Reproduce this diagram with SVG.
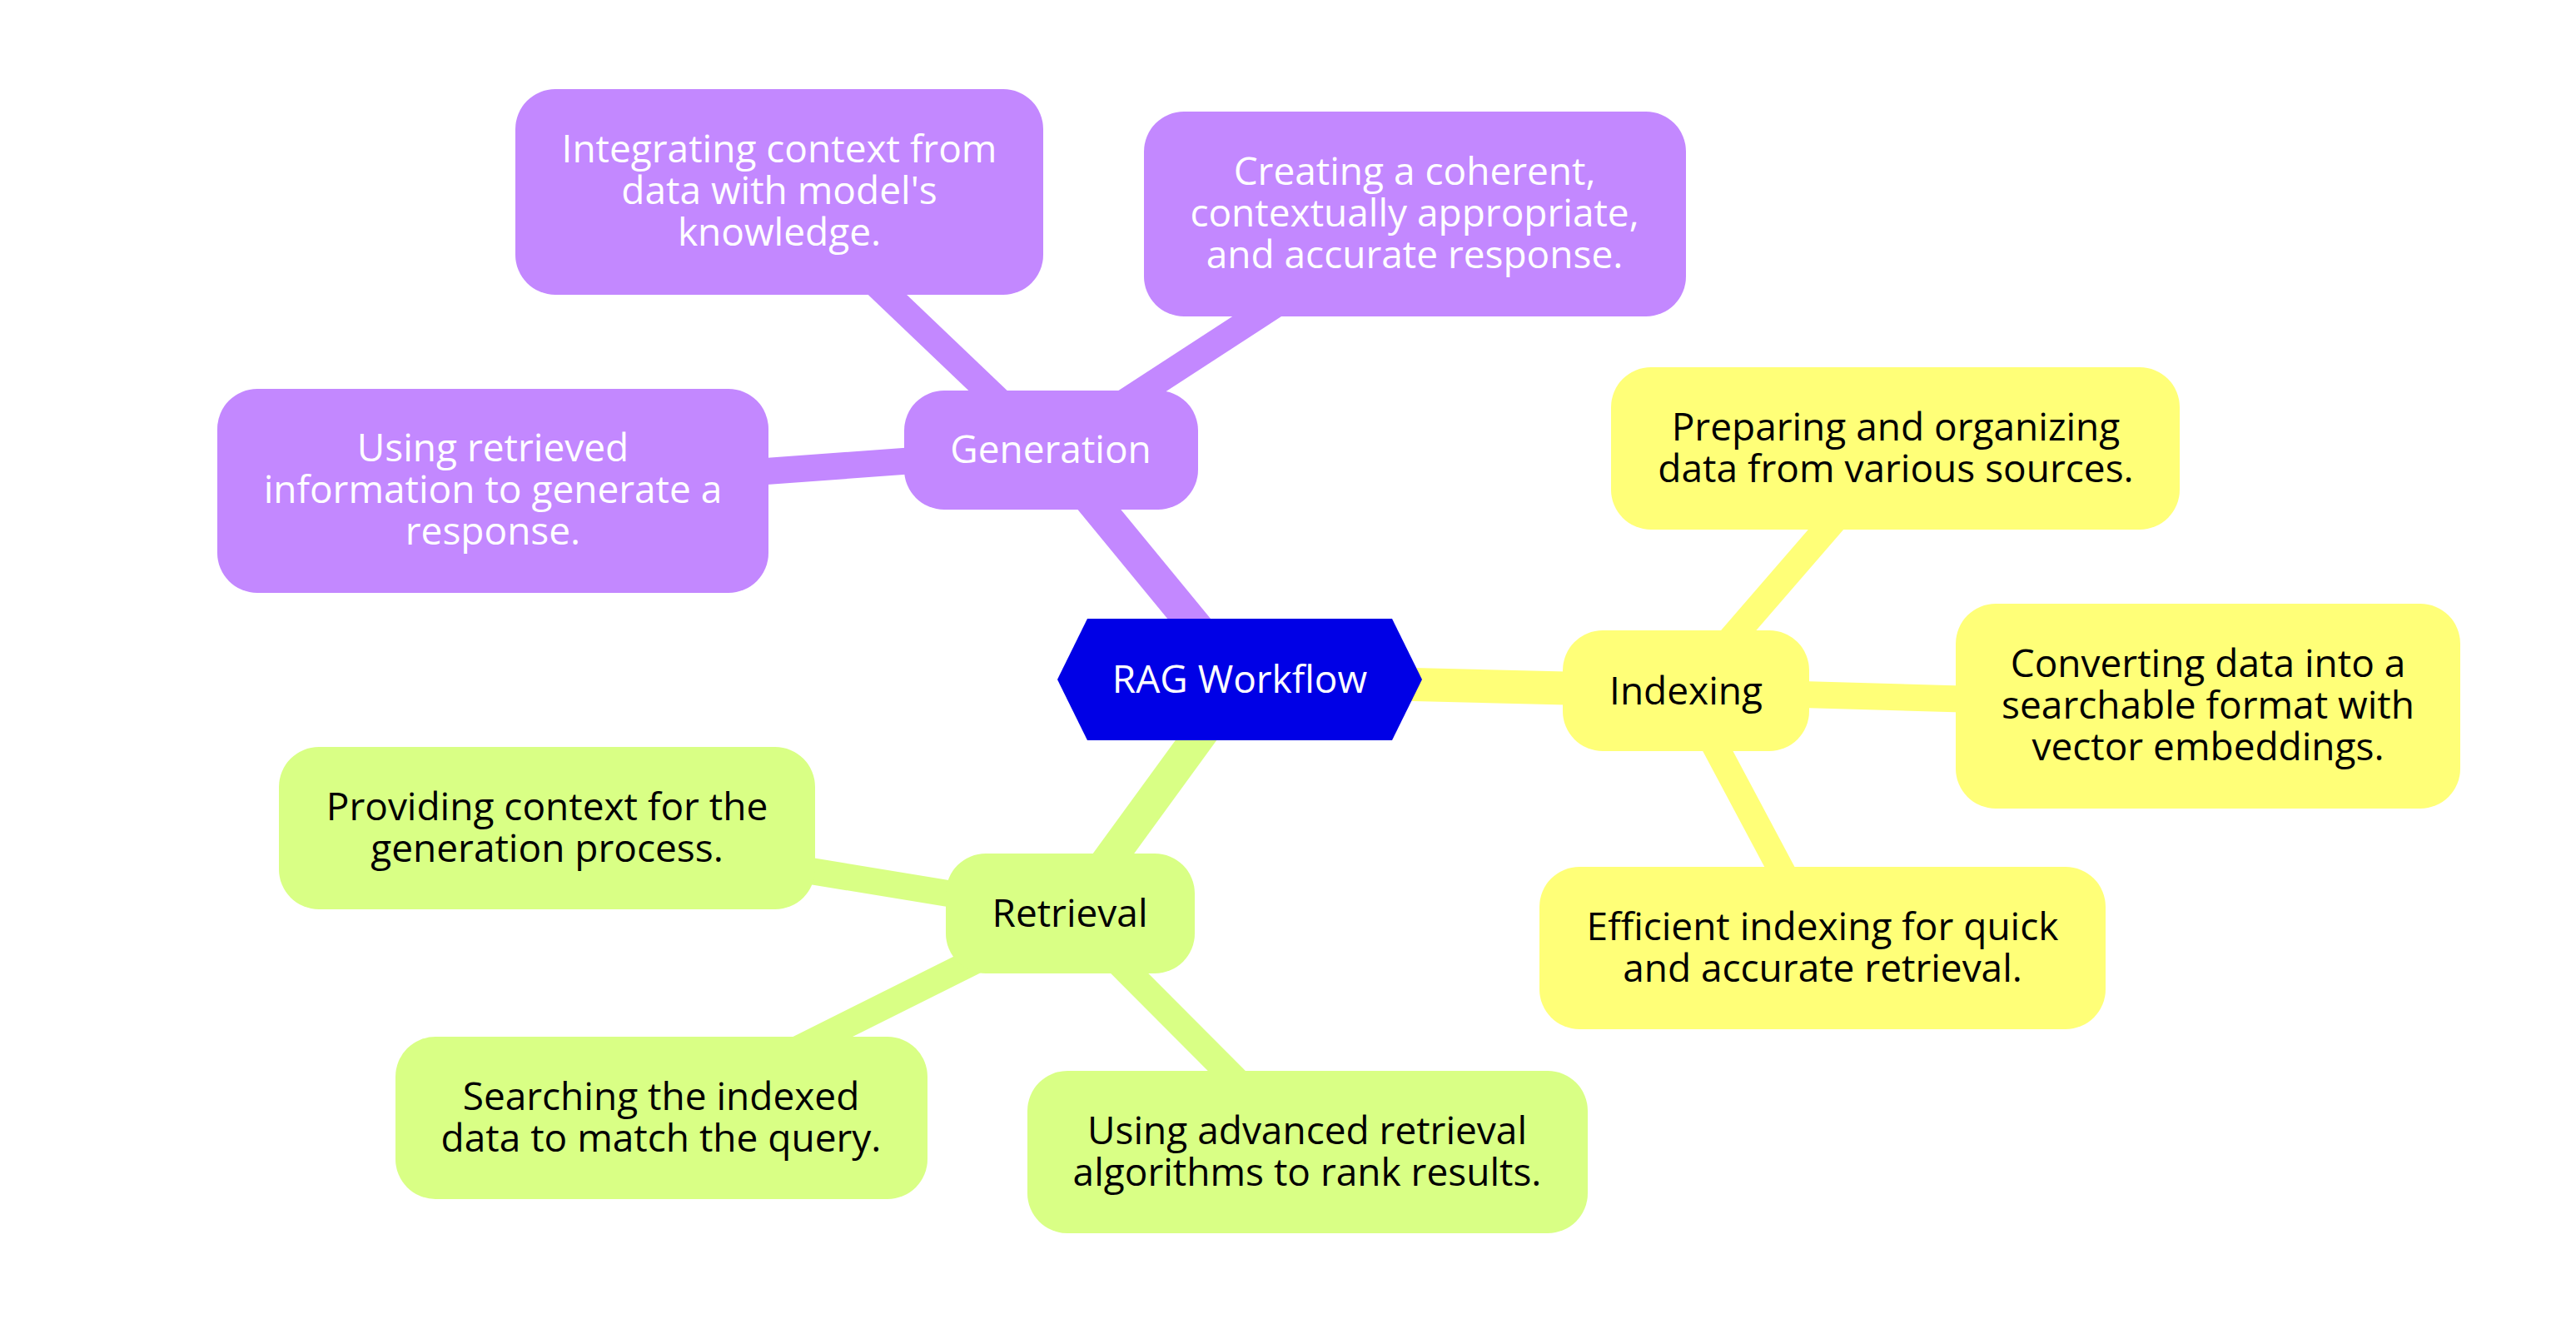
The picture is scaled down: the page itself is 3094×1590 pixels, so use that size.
<svg xmlns="http://www.w3.org/2000/svg" width="3094" height="1590" viewBox="0 0 3094 1590">
<style>
text{font-family:"Open Sans","Noto Sans","Liberation Sans",sans-serif;font-size:46px;text-anchor:middle}
.gen rect{fill:#c388ff}
.gen text{fill:#ffffff}
.idx rect{fill:#ffff78}
.ret rect{fill:#d9ff85}
.idx text,.ret text{fill:#000000}
.root polygon{fill:#0000e6}
.root text{fill:#ffffff}
.c line{stroke-linecap:butt}
.cg{stroke:#c388ff}
.ci{stroke:#ffff78}
.cr{stroke:#d9ff85}
.w1{stroke-width:40}
.w2{stroke-width:32}
</style>
<rect x="0" y="0" width="3094" height="1590" fill="#ffffff"/>
<g id="connectors" class="c">
<line class="cg w1" x1="1489" y1="817" x2="1262" y2="541"/>
<line class="ci w1" x1="1489" y1="817" x2="2025" y2="830"/>
<line class="cr w1" x1="1489" y1="817" x2="1285" y2="1097"/>
<line class="cg w2" x1="1262" y1="541" x2="936" y2="230"/>
<line class="cg w2" x1="1262" y1="541" x2="1699" y2="257"/>
<line class="cg w2" x1="1262" y1="541" x2="592" y2="590"/>
<line class="ci w2" x1="2025" y1="830" x2="2277" y2="539"/>
<line class="ci w2" x1="2025" y1="830" x2="2652" y2="848"/>
<line class="ci w2" x1="2025" y1="830" x2="2189" y2="1138"/>
<line class="cr w2" x1="1285" y1="1097" x2="657" y2="994"/>
<line class="cr w2" x1="1285" y1="1097" x2="794" y2="1342"/>
<line class="cr w2" x1="1285" y1="1097" x2="1570" y2="1383"/>
</g>
<g id="rag-workflow" class="root">
<polygon points="1270,816 1306,743 1672,743 1708,816 1672,889 1306,889"/>
<text x="1489" y="832">RAG Workflow</text>
</g>
<g id="generation" class="gen">
<rect x="1086" y="469" width="353" height="143" rx="48"/>
<text x="1262" y="556">Generation</text>
</g>
<g id="integrating-context" class="gen">
<rect x="619" y="107" width="634" height="247" rx="48"/>
<text x="936" y="195">Integrating context from</text>
<text x="936" y="245">data with model's</text>
<text x="936" y="295">knowledge.</text>
</g>
<g id="creating-response" class="gen">
<rect x="1374" y="134" width="651" height="246" rx="48"/>
<text x="1699" y="222">Creating a coherent,</text>
<text x="1699" y="272">contextually appropriate,</text>
<text x="1699" y="322">and accurate response.</text>
</g>
<g id="using-retrieved" class="gen">
<rect x="261" y="467" width="662" height="245" rx="48"/>
<text x="592" y="554">Using retrieved</text>
<text x="592" y="604">information to generate a</text>
<text x="592" y="654">response.</text>
</g>
<g id="indexing" class="idx">
<rect x="1877" y="757" width="296" height="145" rx="48"/>
<text x="2025" y="846">Indexing</text>
</g>
<g id="preparing-data" class="idx">
<rect x="1935" y="441" width="683" height="195" rx="48"/>
<text x="2277" y="529">Preparing and organizing</text>
<text x="2277" y="579">data from various sources.</text>
</g>
<g id="converting-data" class="idx">
<rect x="2349" y="725" width="606" height="246" rx="48"/>
<text x="2652" y="813">Converting data into a</text>
<text x="2652" y="863">searchable format with</text>
<text x="2652" y="913">vector embeddings.</text>
</g>
<g id="efficient-indexing" class="idx">
<rect x="1849" y="1041" width="680" height="195" rx="48"/>
<text x="2189" y="1129">Efficient indexing for quick</text>
<text x="2189" y="1179">and accurate retrieval.</text>
</g>
<g id="retrieval" class="ret">
<rect x="1136" y="1025" width="299" height="144" rx="48"/>
<text x="1285" y="1113">Retrieval</text>
</g>
<g id="providing-context" class="ret">
<rect x="335" y="897" width="644" height="195" rx="48"/>
<text x="657" y="985">Providing context for the</text>
<text x="657" y="1035">generation process.</text>
</g>
<g id="searching-data" class="ret">
<rect x="475" y="1245" width="639" height="195" rx="48"/>
<text x="794" y="1333">Searching the indexed</text>
<text x="794" y="1383">data to match the query.</text>
</g>
<g id="advanced-algorithms" class="ret">
<rect x="1234" y="1286" width="673" height="195" rx="48"/>
<text x="1570" y="1374">Using advanced retrieval</text>
<text x="1570" y="1424">algorithms to rank results.</text>
</g>
</svg>
